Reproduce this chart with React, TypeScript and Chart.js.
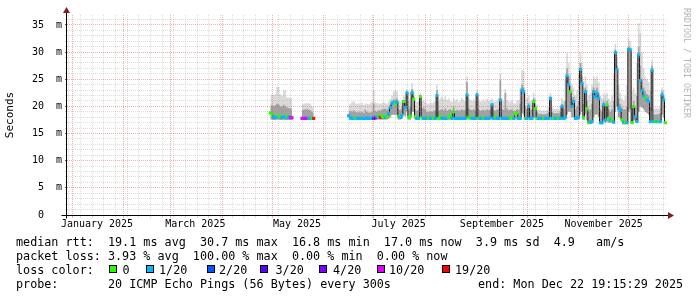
import React, { useEffect, useRef } from 'react';
import { Chart, registerables } from 'chart.js';

Chart.register(...registerables);

// x values are days since Sun 2024-12-29 00:00 (left edge of the plot)
const X_MIN = 0;
const X_MAX = 360;
const Y_MIN = 0;
const Y_MAX = 36.84; // milliseconds
const FIRST_DAY = 122; // day of the first entry in the series arrays

// ---- data (ms), one entry per day starting at FIRST_DAY; null = no data ----
const medianRtt = [
  // 122-135
  18.8, 18.6, 18.0, 18.0, 18.0, 18.2, 18.2, 18.0, 18.0, 18.0, 18.2, 18.0, 18.0, 17.9,
  // 136-140
  null, null, null, null, null,
  // 141-148
  17.8, 17.8, 17.8, 17.8, 17.8, 17.8, 17.8, 17.8,
  // 149-168
  null, null, null, null, null, null, null, null, null, null,
  null, null, null, null, null, null, null, null, null, null,
  // 169-178
  18.3, 17.9, 17.8, 17.8, 17.9, 17.8, 17.8, 17.8, 17.8, 17.8,
  // 179-188
  17.8, 17.8, 17.8, 17.8, 17.8, 17.8, 17.9, 18.1, 18.3, 18.0,
  // 189-198
  18.2, 18.1, 18.0, 18.1, 18.7, 19.8, 20.6, 20.7, 20.5, 20.8,
  // 199-208
  18.1, 18.0, 18.4, 20.9, 19.8, 22.5, 18.0, 18.2, 22.5, 21.3,
  // 209-218
  18.1, 17.8, 17.8, 21.8, 17.9, 17.8, 17.8, 17.8, 17.8, 17.8,
  // 219-228
  17.8, 17.8, 17.8, 22.0, 17.8, 18.2, 17.8, 17.8, 17.8, 17.8,
  // 229-238
  17.9, 18.3, 17.8, 19.0, 17.8, 17.8, 17.8, 17.8, 17.8, 17.8,
  // 239-248
  17.8, 22.1, 17.9, 18.1, 17.8, 17.8, 17.8, 22.1, 17.8, 17.8,
  // 249-258
  17.8, 17.8, 17.8, 17.8, 17.8, 17.9, 20.3, 17.8, 18.1, 17.8,
  // 259-268
  17.8, 21.2, 17.8, 17.8, 17.8, 17.8, 17.8, 17.9, 18.0, 17.8,
  // 269-278
  18.6, 18.8, 17.8, 17.8, 23.0, 22.7, 17.8, 17.8, 20.0, 17.8,
  // 279-288
  17.8, 20.9, 19.6, 17.8, 17.8, 17.8, 17.8, 17.8, 17.8, 17.8,
  // 289-298
  17.8, 21.5, 17.8, 17.8, 17.8, 17.8, 17.8, 17.8, 20.0, 17.8,
  // 299-308
  18.0, 25.6, 24.0, 22.7, 20.0, 20.9, 17.8, 17.9, 18.0, 26.8,
  // 309-318
  24.3, 17.9, 22.7, 19.6, 17.0, 17.1, 17.2, 22.7, 21.8, 22.4,
  // 319-328
  21.5, 17.0, 17.0, 20.3, 17.5, 20.3, 17.8, 17.5, 17.5, 17.1,
  // 329-338
  29.9, 26.8, 19.6, 19.3, 17.5, 17.0, 17.0, 17.0, 30.5, 30.4,
  // 339-348
  17.0, 20.0, 18.1, 17.2, 29.5, 24.8, 22.9, 21.9, 21.5, 21.2,
  // 349-358
  20.9, 17.2, 26.7, 17.2, 17.2, 17.2, 17.2, 17.2, 22.1, 21.2,
  // 359
  17.0,
];

// lost pings out of 20 for each day
const lossCount = [
  0, 0, 1, 1, 1, 0, 0, 1, 1, 1, 0, 1, 10, 10,
  null, null, null, null, null,
  10, 10, 10, 10, 1, 1, 0, 19,
  null, null, null, null, null, null, null, null, null, null,
  null, null, null, null, null, null, null, null, null, null,
  1, 1, 1, 1, 0, 1, 1, 1, 1, 1,
  1, 1, 1, 1, 1, 3, 4, 1, 0, 19,
  0, 0, 1, 0, 1, 1, 1, 1, 0, 1,
  0, 1, 1, 0, 1, 1, 0, 0, 1, 0,
  0, 1, 1, 0, 0, 1, 1, 1, 0, 1,
  1, 0, 1, 1, 0, 0, 1, 1, 1, 1,
  0, 0, 1, 0, 1, 1, 1, 1, 1, 1,
  1, 1, 0, 0, 1, 1, 1, 1, 0, 1,
  1, 0, 1, 1, 1, 1, 1, 1, 0, 1,
  1, 1, 1, 1, 1, 1, 1, 0, 0, 1,
  0, 0, 1, 1, 1, 1, 0, 1, 1, 1,
  1, 0, 0, 0, 1, 1, 1, 0, 1, 1,
  1, 1, 1, 0, 1, 1, 0, 1, 1, 1,
  1, 1, 1, 0, 1, 1, 1, 1, 1, 1,
  1, 0, 1, 0, 0, 1, 1, 1, 1, 1,
  1, 1, 1, 1, 1, 0, 0, 1, 0, 1,
  1, 1, 1, 1, 0, 1, 0, 1, 1, 1,
  0, 0, 1, 1, 1, 1, 1, 1, 0, 1,
  1, 1, 1, 1, 0, 1, 0, 1, 1, 1,
  0,
];

// lowest ping of the day
const smokeLow = [
  17.6, 17.6, 17.5, 17.5, 17.6, 17.6, 17.5, 17.5, 17.6, 17.5, 17.5, 17.5, 17.5, 17.5,
  null, null, null, null, null,
  17.6, 17.6, 17.6, 17.6, 17.6, 17.6, 17.6, 17.6,
  null, null, null, null, null, null, null, null, null, null,
  null, null, null, null, null, null, null, null, null, null,
  17.6, 17.6, 17.6, 17.6, 17.6, 17.6, 17.6, 17.6, 17.6, 17.6,
  17.6, 17.6, 17.6, 17.6, 17.6, 17.6, 17.6, 17.6, 17.6, 17.6,
  17.6, 17.6, 17.6, 17.6, 17.7, 18.0, 18.4, 18.5, 18.4, 18.5,
  17.6, 17.6, 17.7, 18.5, 18.2, 19.0, 17.6, 17.6, 19.0, 19.0,
  17.6, 17.6, 17.6, 18.2, 17.6, 17.6, 17.6, 17.6, 17.6, 17.6,
  17.6, 17.6, 17.6, 17.8, 17.6, 17.6, 17.6, 17.6, 17.6, 17.6,
  17.6, 17.6, 17.6, 17.7, 17.6, 17.6, 17.6, 17.6, 17.6, 17.6,
  17.6, 18.5, 17.6, 17.6, 17.6, 17.6, 17.6, 18.2, 17.6, 17.6,
  17.6, 17.6, 17.6, 17.6, 17.6, 17.6, 17.8, 17.6, 17.6, 17.6,
  17.6, 18.0, 17.6, 17.6, 17.6, 17.6, 17.6, 17.6, 17.6, 17.6,
  17.6, 17.6, 17.6, 17.6, 18.8, 18.5, 17.6, 17.6, 17.8, 17.6,
  17.6, 18.0, 17.8, 17.6, 17.6, 17.6, 17.6, 17.6, 17.6, 17.6,
  17.6, 18.0, 17.6, 17.6, 17.6, 17.6, 17.6, 17.6, 17.8, 17.6,
  17.6, 18.5, 19.0, 19.0, 18.0, 18.0, 17.6, 17.6, 17.6, 18.5,
  19.0, 17.5, 18.5, 17.5, 16.9, 16.9, 16.9, 18.0, 18.5, 18.5,
  18.0, 16.9, 16.9, 17.5, 17.0, 17.2, 17.0, 17.0, 17.0, 16.9,
  19.0, 20.0, 18.0, 17.8, 17.2, 16.9, 16.9, 16.9, 19.0, 19.5,
  16.9, 17.5, 17.2, 17.0, 19.0, 20.0, 19.8, 19.5, 19.0, 18.8,
  18.5, 17.0, 19.0, 17.0, 17.0, 17.0, 17.0, 17.0, 18.5, 18.0,
  16.9,
];

// upper edge of the dense (dark) part of the smoke
const smokeMid = [
  20.0, 20.3, 20.0, 20.2, 20.5, 20.4, 20.0, 20.0, 20.3, 20.1, 19.8, 19.7, 19.6, 19.5,
  null, null, null, null, null,
  19.3, 19.4, 19.5, 19.5, 19.4, 19.3, 19.0, 18.8,
  null, null, null, null, null, null, null, null, null, null,
  null, null, null, null, null, null, null, null, null, null,
  19.0, 19.2, 19.0, 19.3, 19.0, 18.9, 19.0, 18.9, 19.0, 18.8,
  19.4, 19.0, 18.9, 18.9, 19.0, 20.5, 19.2, 19.0, 19.3, 19.2,
  19.5, 19.5, 19.6, 19.4, 19.8, 20.4, 21.0, 21.3, 21.2, 21.5,
  19.5, 19.4, 19.8, 21.2, 20.6, 22.6, 19.5, 20.0, 23.2, 22.0,
  19.5, 19.2, 19.4, 22.0, 19.6, 19.8, 19.5, 19.0, 19.0, 19.1,
  19.0, 19.2, 19.3, 23.0, 19.2, 19.4, 19.5, 19.3, 19.6, 19.2,
  19.4, 19.5, 19.3, 20.0, 19.2, 19.4, 19.2, 19.3, 19.5, 19.3,
  19.4, 24.5, 19.6, 19.4, 19.3, 19.5, 19.3, 22.5, 19.5, 19.2,
  19.3, 19.4, 19.2, 19.5, 19.3, 19.4, 20.5, 19.3, 19.2, 19.4,
  19.5, 24.8, 19.5, 19.4, 22.5, 19.6, 19.3, 19.4, 19.5, 19.2,
  19.2, 19.5, 19.4, 20.5, 24.0, 23.5, 20.0, 19.5, 20.6, 19.4,
  19.5, 21.5, 20.4, 19.0, 18.7, 18.6, 18.6, 18.5, 18.6, 18.7,
  19.0, 21.8, 19.0, 18.8, 18.7, 18.8, 18.7, 19.0, 20.5, 19.5,
  21.0, 27.0, 25.5, 23.8, 21.5, 21.8, 19.5, 20.0, 21.0, 28.0,
  25.5, 20.5, 23.5, 21.0, 19.0, 19.5, 20.5, 23.5, 23.0, 23.5,
  22.5, 19.5, 19.0, 21.0, 20.0, 21.0, 19.5, 19.0, 19.5, 21.0,
  30.5, 27.5, 21.5, 20.5, 19.8, 19.5, 19.5, 20.0, 31.0, 30.8,
  19.5, 21.0, 20.0, 22.0, 31.0, 27.5, 25.0, 23.5, 22.8, 22.3,
  22.0, 20.0, 27.5, 18.5, 18.5, 18.5, 18.6, 18.8, 22.8, 22.0,
  18.5,
];

// highest ping of the day
const smokeHigh = [
  22.0, 22.2, 22.1, 22.3, 23.6, 23.6, 22.2, 22.0, 23.0, 23.0, 21.7, 21.6, 21.6, 21.5,
  null, null, null, null, null,
  20.3, 20.5, 20.6, 20.6, 20.6, 20.5, 20.0, 19.8,
  null, null, null, null, null, null, null, null, null, null,
  null, null, null, null, null, null, null, null, null, null,
  20.3, 20.5, 20.8, 21.0, 20.6, 20.5, 20.6, 20.4, 20.7, 20.3,
  20.6, 20.5, 20.4, 20.6, 20.8, 23.0, 20.8, 20.6, 20.6, 20.5,
  20.6, 20.8, 20.6, 20.5, 20.9, 21.4, 22.0, 22.8, 23.0, 22.8,
  21.0, 20.8, 21.2, 22.0, 21.8, 23.2, 21.0, 21.5, 24.3, 23.0,
  21.0, 20.8, 21.0, 22.5, 21.0, 21.2, 20.8, 20.6, 20.5, 20.7,
  20.6, 20.8, 21.0, 24.0, 21.0, 21.5, 21.8, 21.3, 22.0, 21.2,
  21.5, 21.0, 20.8, 21.5, 21.0, 21.3, 20.8, 21.0, 21.6, 21.2,
  21.0, 25.5, 21.5, 21.2, 21.0, 21.4, 21.0, 23.0, 21.2, 20.9,
  21.0, 21.3, 20.9, 21.4, 21.0, 21.2, 21.5, 21.0, 20.8, 21.2,
  21.4, 26.0, 21.3, 21.0, 23.2, 21.2, 21.0, 20.8, 21.2, 20.6,
  20.5, 21.0, 21.2, 23.5, 26.7, 26.5, 22.5, 21.5, 22.0, 21.0,
  21.2, 22.5, 21.5, 20.3, 19.5, 19.3, 19.2, 19.3, 19.2, 19.4,
  20.0, 22.5, 20.0, 19.6, 19.5, 19.6, 19.4, 20.0, 21.5, 21.0,
  25.0, 29.8, 28.0, 26.0, 24.0, 23.5, 22.0, 23.0, 26.0, 30.0,
  28.0, 23.5, 25.5, 24.0, 22.0, 22.5, 24.0, 25.5, 25.0, 25.5,
  24.5, 22.0, 21.5, 22.5, 22.0, 22.5, 21.5, 21.0, 22.0, 26.0,
  31.5, 29.0, 24.0, 22.5, 21.5, 21.0, 22.0, 24.0, 32.5, 32.0,
  23.0, 23.5, 22.5, 28.0, 35.3, 33.5, 30.0, 27.0, 25.5, 25.0,
  24.5, 23.0, 28.5, 19.6, 19.6, 19.6, 19.6, 20.0, 23.5, 23.0,
  19.8,
];

// ---- axes ----
const monthStartDays = [3, 34, 62, 93, 123, 154, 184, 215, 246, 276, 307, 337];
const weekStartDays = [
  1, 8, 15, 22, 29, 36, 43, 50, 57, 64, 71, 78, 85, 92, 99, 106, 113, 120, 127, 134,
  141, 148, 155, 162, 169, 176, 183, 190, 197, 204, 211, 218, 225, 232, 239, 246, 253,
  260, 267, 274, 281, 288, 295, 302, 309, 316, 323, 330, 337, 344, 351, 358,
];
const monthLabelDays = [18, 77, 138, 199, 261, 322];
const monthLabels = ['January 2025', 'March 2025', 'May 2025', 'July 2025', 'September 2025', 'November 2025'];
const yMajorStep = 5;
const yMinorStep = 1;

// ---- legend ----
const lossClasses = [0, 1, 2, 3, 4, 10, 19];
const lossLabels = ['0', '1/20', '2/20', '3/20', '4/20', '10/20', '19/20'];
const lossColors = ['#26ff00', '#00b8ff', '#0059ff', '#5e00ff', '#7e00ff', '#dd00ff', '#ff0000'];
const statsLine1 = 'median rtt:  19.1 ms avg  30.7 ms max  16.8 ms min  17.0 ms now  3.9 ms sd  4.9   am/s';
const statsLine2 = 'packet loss: 3.93 % avg  100.00 % max  0.00 % min  0.00 % now';
const lossTitle = 'loss color:';
const probeLine = 'probe:       20 ICMP Echo Pings (56 Bytes) every 300s';
const endLine = 'end: Mon Dec 22 19:15:29 2025';
const watermark = 'RRDTOOL / TOBI OETIKER';
const yTitle = 'Seconds';

// ---- styling / layout ----
const MONO = "'DejaVu Sans Mono', monospace";
const MINOR_GRID = 'rgba(143,143,143,0.3)';
const MAJOR_GRID = 'rgba(222,80,80,0.45)';
const ARROW = '#8b1a1a';
const SMOKE_LIGHT = '#dadada';
const SMOKE_DARK = '#a2a2a2';
const LOSS_BOX_X = [109, 146, 207, 260, 319, 377, 442];
const LOSS_TEXT_X = [122.5, 159, 219, 275.5, 333, 389, 455];

const toPoints = (arr: (number | null)[]) => arr.map((v, i) => ({ x: FIRST_DAY + i, y: v }));
const colorForLoss = (l: number | null) => {
  const idx = lossClasses.indexOf(l as number);
  return idx >= 0 ? lossColors[idx] : 'rgba(0,0,0,0)';
};

const xGridDays = [
  ...weekStartDays.filter((d) => !monthStartDays.includes(d)),
  ...monthStartDays,
].sort((a, b) => a - b);
const yGridValues: number[] = [];
for (let v = Y_MIN; v <= Y_MAX; v += yMinorStep) yGridValues.push(v);

const decorPlugin = {
  id: 'rrdDecor',
  afterDraw(chart: any) {
    const { ctx, chartArea } = chart;
    const xs = chart.scales.x;
    const ys = chart.scales.y;
    const left = Math.round(xs.getPixelForValue(X_MIN)) - 0.5;
    const base = Math.round(ys.getPixelForValue(0)) + 0.5;
    const right = chartArea.right;
    const top = chartArea.top;
    ctx.save();
    // axes
    ctx.strokeStyle = '#000';
    ctx.lineWidth = 1;
    ctx.beginPath();
    ctx.moveTo(left - 5, base);
    ctx.lineTo(right + 1, base);
    ctx.moveTo(left, base + 3);
    ctx.lineTo(left, top - 2);
    ctx.stroke();
    // arrows
    ctx.fillStyle = ARROW;
    ctx.beginPath();
    ctx.moveTo(right + 1, base - 3.5);
    ctx.lineTo(right + 7, base);
    ctx.lineTo(right + 1, base + 3.5);
    ctx.closePath();
    ctx.fill();
    ctx.beginPath();
    ctx.moveTo(left - 3.5, top - 2);
    ctx.lineTo(left, top - 8);
    ctx.lineTo(left + 3.5, top - 2);
    ctx.closePath();
    ctx.fill();

    // legend
    ctx.font = `11.75px ${MONO}`;
    ctx.textAlign = 'left';
    ctx.textBaseline = 'alphabetic';
    ctx.fillStyle = '#000';
    ctx.fillText(statsLine1, 16, 246);
    ctx.fillText(statsLine2, 16, 260);
    ctx.fillText(lossTitle, 16, 274);
    ctx.fillText(probeLine, 16, 288);
    ctx.fillText(endLine, 478, 288);
    lossLabels.forEach((label, i) => {
      const bx = LOSS_BOX_X[i];
      ctx.fillStyle = lossColors[i];
      ctx.fillRect(bx, 265, 8, 8);
      ctx.strokeStyle = '#000';
      ctx.strokeRect(bx + 0.5, 265.5, 7, 7);
      ctx.fillStyle = '#000';
      ctx.fillText(label, LOSS_TEXT_X[i], 274);
    });

    // watermark
    ctx.translate(686.5, 8);
    ctx.rotate(Math.PI / 2);
    ctx.font = `8.3px ${MONO}`;
    ctx.fillStyle = '#b4b4b4';
    ctx.textBaseline = 'middle';
    ctx.fillText(watermark, 0, 0);
    ctx.restore();
  },
};

export default function App() {
  const ref = useRef<HTMLCanvasElement>(null);

  useEffect(() => {
    document.body.style.margin = '0';
    const canvas = ref.current;
    if (!canvas) return;

    const chart = new Chart(canvas, {
      type: 'line',
      data: {
        datasets: [
          {
            label: 'loss',
            data: toPoints(medianRtt),
            showLine: false,
            pointStyle: 'rect',
            pointRadius: 2.2,
            pointBorderWidth: 0,
            pointBackgroundColor: lossCount.map(colorForLoss),
            xAxisID: 'x',
            yAxisID: 'y',
          },
          {
            label: 'median',
            data: toPoints(medianRtt),
            borderColor: '#1a1a1a',
            borderWidth: 1,
            pointRadius: 0,
            stepped: 'middle',
            fill: false,
            xAxisID: 'x',
            yAxisID: 'y',
          },
          {
            label: 'smoke low',
            data: toPoints(smokeLow),
            borderWidth: 0,
            pointRadius: 0,
            stepped: 'middle',
            fill: false,
            xAxisID: 'x',
            yAxisID: 'y',
          },
          {
            label: 'smoke mid',
            data: toPoints(smokeMid),
            borderWidth: 0,
            pointRadius: 0,
            stepped: 'middle',
            fill: 2,
            backgroundColor: SMOKE_DARK,
            xAxisID: 'x',
            yAxisID: 'y',
          },
          {
            label: 'smoke high',
            data: toPoints(smokeHigh),
            borderWidth: 0,
            pointRadius: 0,
            stepped: 'middle',
            fill: 2,
            backgroundColor: SMOKE_LIGHT,
            xAxisID: 'x',
            yAxisID: 'y',
          },
        ],
      },
      options: {
        animation: false,
        responsive: false,
        maintainAspectRatio: false,
        devicePixelRatio: 1,
        events: [],
        layout: { padding: { left: 0, right: 30, top: 15, bottom: 0 } },
        plugins: {
          legend: { display: false },
          tooltip: { enabled: false },
          title: { display: false },
        },
        scales: {
          x: {
            type: 'linear',
            position: 'bottom',
            weight: 0,
            min: X_MIN,
            max: X_MAX,
            afterBuildTicks: (s: any) => {
              s.ticks = xGridDays.map((v) => ({ value: v }));
            },
            afterFit: (s: any) => {
              s.height = 0;
            },
            ticks: { display: false, autoSkip: false },
            grid: {
              z: 1,
              lineWidth: 1,
              drawTicks: true,
              tickLength: 3,
              color: (c: any) => (c.tick && monthStartDays.includes(c.tick.value) ? MAJOR_GRID : MINOR_GRID),
              tickColor: (c: any) => (c.tick && monthStartDays.includes(c.tick.value) ? MAJOR_GRID : MINOR_GRID),
            },
            border: { display: false, dash: [1, 1] },
          },
          xl: {
            type: 'linear',
            position: 'bottom',
            weight: 1,
            min: X_MIN,
            max: X_MAX,
            afterBuildTicks: (s: any) => {
              s.ticks = monthLabelDays.map((v) => ({ value: v }));
            },
            afterFit: (s: any) => {
              s.height = 82;
            },
            ticks: {
              autoSkip: false,
              maxRotation: 0,
              minRotation: 0,
              padding: 3,
              color: '#000',
              font: { family: MONO, size: 10 },
              callback: (_v: any, i: number) => monthLabels[i],
            },
            grid: { display: false, drawTicks: false },
            border: { display: false },
          },
          y: {
            type: 'linear',
            position: 'left',
            min: Y_MIN,
            max: Y_MAX,
            afterBuildTicks: (s: any) => {
              s.ticks = yGridValues.map((v) => ({ value: v }));
            },
            afterFit: (s: any) => {
              s.width = 67;
            },
            ticks: {
              autoSkip: false,
              padding: 3,
              color: '#000',
              font: { family: MONO, size: 10 },
              callback: (value: any) => {
                const v = Number(value);
                if (v % yMajorStep !== 0) return '';
                return v === 0 ? '0   ' : `${v}  m`;
              },
            },
            grid: {
              z: 1,
              lineWidth: 1,
              drawTicks: true,
              tickLength: 2,
              color: (c: any) => (c.tick && c.tick.value % yMajorStep === 0 ? MAJOR_GRID : MINOR_GRID),
              tickColor: (c: any) => (c.tick && c.tick.value % yMajorStep === 0 ? '#555' : MINOR_GRID),
            },
            border: { display: false, dash: [1, 1] },
            title: {
              display: true,
              text: yTitle,
              color: '#000',
              font: { family: MONO, size: 11 },
              padding: { top: 4, bottom: 0 },
            },
          },
        },
      },
      plugins: [decorPlugin],
    } as any);

    return () => chart.destroy();
  }, []);

  return <canvas ref={ref} width={697} height={297} style={{ display: 'block', width: 697, height: 297 }} />;
}
